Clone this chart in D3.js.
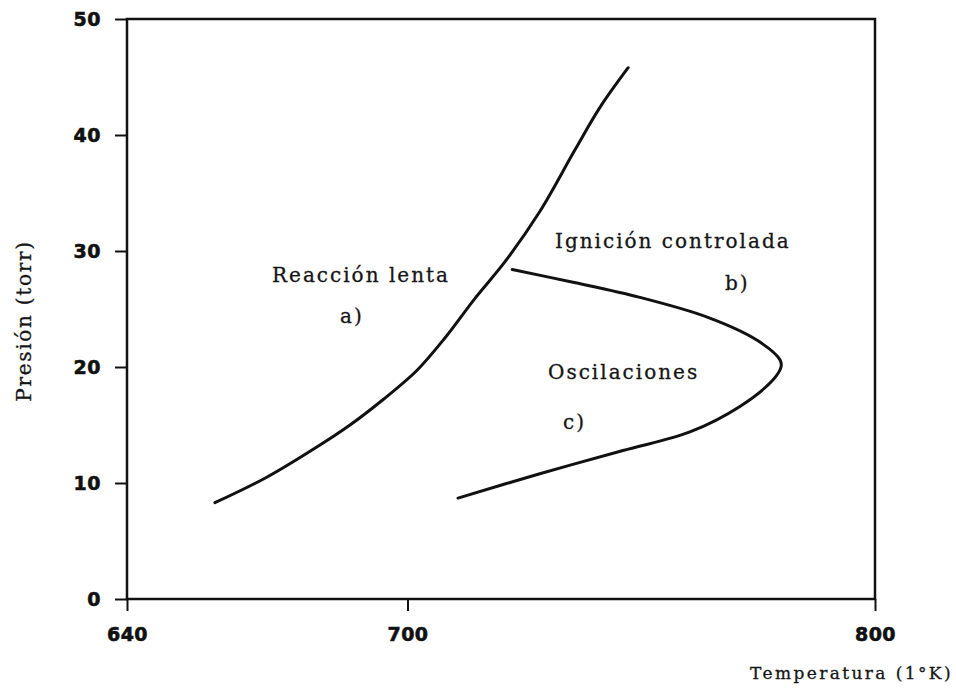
<!DOCTYPE html>
<html>
<head>
<meta charset="utf-8">
<script src="https://cdn.jsdelivr.net/npm/d3@7"></script>
<style>
  body { margin: 0; background: #fff; }
  .tick text { font-family: "DejaVu Sans", sans-serif; font-weight: bold; font-size: 19px; fill: #111; stroke: #111; stroke-width: 0.6px; letter-spacing: 0.5px; }
  .lbl { font-family: "DejaVu Serif", serif; fill: #151515; stroke: #151515; stroke-width: 0.3px; }
</style>
</head>
<body>
<div id="container"></div>
<script>
// CONSTANTS AND GLOBALS
const width = 956,
  height = 693,
  margin = { top: 19, bottom: 94, left: 127, right: 81 };

// DATA
const xTicks = [640, 700, 800];
const yTicks = [0, 10, 20, 30, 40, 50];

// curve a) boundary of slow reaction
const slowTemp = [658.8, 669.9, 680.6, 687.7, 694.8, 702.0, 708.0, 714.4, 720.9, 728.3, 735.8, 741.2, 747.2];
const slowPres = [8.3, 10.5, 13.1, 15.0, 17.2, 19.7, 22.5, 25.9, 29.1, 33.4, 38.7, 42.4, 45.8];

// curve b)/c) boundary of oscillations
const oscTemp = [722.4, 735.4, 749.7, 764.1, 774.8, 779.7, 779.9, 778.2, 771.1, 760.4, 746.1, 728.3, 710.8];
const oscPres = [28.4, 27.3, 26.0, 24.3, 22.3, 20.6, 20.0, 18.9, 16.6, 14.4, 12.8, 10.8, 8.7];

const slow = slowTemp.map((t, i) => ({ T: t, P: slowPres[i] }));
const osc = oscTemp.map((t, i) => ({ T: t, P: oscPres[i] }));

// + SCALES
const xScale = d3.scaleLinear()
  .domain([640, 800])
  .range([margin.left, width - margin.right]);

const yScale = d3.scaleLinear()
  .domain([0, 50])
  .range([height - margin.bottom, margin.top]);

// CREATE SVG ELEMENT
const svg = d3.select("#container")
  .append("svg")
  .attr("width", width)
  .attr("height", height);

// frame
svg.append("rect")
  .attr("x", xScale(640))
  .attr("y", yScale(50))
  .attr("width", xScale(800) - xScale(640))
  .attr("height", yScale(0) - yScale(50))
  .attr("fill", "none")
  .attr("stroke", "#111")
  .attr("stroke-width", 2.5);

// BUILD AND CALL AXES
const xAxis = d3.axisBottom(xScale)
  .tickValues(xTicks)
  .tickSize(12)
  .tickPadding(17)
  .tickFormat(d3.format("d"));

svg.append("g")
  .attr("transform", `translate(0, ${yScale(0)})`)
  .call(xAxis)
  .call(g => g.select(".domain").remove())
  .call(g => g.selectAll(".tick line").attr("stroke", "#111").attr("stroke-width", 2));

const yAxis = d3.axisLeft(yScale)
  .tickValues(yTicks)
  .tickSize(12)
  .tickPadding(14)
  .tickFormat(d3.format("d"));

svg.append("g")
  .attr("transform", `translate(${xScale(640)}, 0)`)
  .call(yAxis)
  .call(g => g.select(".domain").remove())
  .call(g => g.selectAll(".tick line").attr("stroke", "#111").attr("stroke-width", 2));

// CURVES
const line = d3.line()
  .x(d => xScale(d.T))
  .y(d => yScale(d.P))
  .curve(d3.curveCatmullRom.alpha(0.5));

[slow, osc].forEach(data => {
  svg.append("path")
    .datum(data)
    .attr("fill", "none")
    .attr("stroke", "#111")
    .attr("stroke-width", 3)
    .attr("stroke-linecap", "round")
    .attr("d", line);
});

// REGION LABELS
const labels = [
  { text: "Reacción lenta", x: 272, y: 282 },
  { text: "a)", x: 340, y: 323 },
  { text: "Ignición controlada", x: 555, y: 248 },
  { text: "b)", x: 725, y: 290 },
  { text: "Oscilaciones", x: 548, y: 379 },
  { text: "c)", x: 563, y: 429 }
];

svg.selectAll("text.region")
  .data(labels)
  .join("text")
  .attr("class", "lbl region")
  .attr("x", d => d.x)
  .attr("y", d => d.y)
  .attr("font-size", 20)
  .attr("letter-spacing", 2)
  .text(d => d.text);

// AXIS TITLES
svg.append("text")
  .attr("class", "lbl")
  .attr("x", 953)
  .attr("y", 679)
  .attr("text-anchor", "end")
  .attr("font-size", 17)
  .attr("letter-spacing", 2.4)
  .text("Temperatura (1°K)");

svg.append("text")
  .attr("class", "lbl")
  .attr("transform", "translate(31, 321) rotate(-90)")
  .attr("text-anchor", "middle")
  .attr("font-size", 20)
  .attr("letter-spacing", 1.7)
  .text("Presión (torr)");
</script>
</body>
</html>
